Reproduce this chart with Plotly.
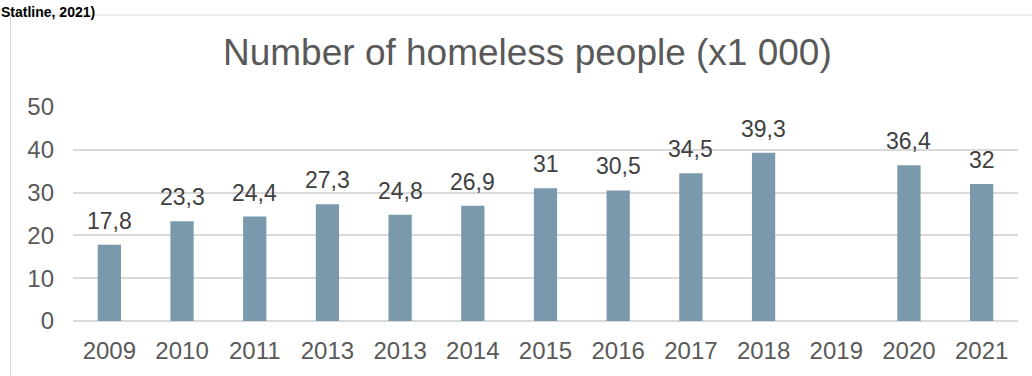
import plotly.graph_objects as go

years = ["2009", "2010", "2011", "2013", "2013", "2014", "2015", "2016",
         "2017", "2018", "2019", "2020", "2021"]
values = [17.8, 23.3, 24.4, 27.3, 24.8, 26.9, 31, 30.5, 34.5, 39.3, None, 36.4, 32]
y_ticks = [0, 10, 20, 30, 40, 50]

title_text = "Number of homeless people (x1 000)"
source_text = "Statline, 2021)"

FONT = "Liberation Sans, Arial, sans-serif"
BAR = "rgb(122,153,173)"
GRID = "#D9D9D9"

# plot area geometry (pixels)
L, R, T, B = 73, 14, 107, 49
W, H = 1032, 376
pw, ph = W - L - R, H - T - B

def px_x(p):
    return (p - L) / pw

def px_y(p):
    return (H - B - p) / ph

xs = list(range(len(years)))

fig = go.Figure()
fig.add_trace(go.Bar(
    x=xs, y=values, marker=dict(color=BAR, line=dict(width=0)),
    width=0.32, hoverinfo="skip",
))

annotations = []
for x, v in zip(xs, values):
    if v is None:
        continue
    annotations.append(dict(
        x=x, y=v, xref="x", yref="y", text=f"{v:g}".replace(".", ","),
        showarrow=False, yanchor="bottom", yshift=9,
        font=dict(family=FONT, size=23, color="#404040"),
    ))

annotations.append(dict(
    x=px_x(527), y=px_y(51), xref="paper", yref="paper", text=title_text,
    showarrow=False, xanchor="center", yanchor="middle",
    font=dict(family=FONT, size=37, color="#595959"),
))
annotations.append(dict(
    x=px_x(0), y=px_y(0), xref="paper", yref="paper", text="<b>" + source_text + "</b>",
    showarrow=False, xanchor="left", yanchor="top", borderpad=0,
    font=dict(family=FONT, size=14, color="#000000"),
))

fig.update_layout(
    width=W, height=H,
    margin=dict(l=L, r=R, t=T, b=B, pad=0),
    paper_bgcolor="white", plot_bgcolor="white",
    showlegend=False,
    annotations=annotations,
    shapes=[dict(
        type="rect", xref="paper", yref="paper",
        x0=px_x(10.5), x1=px_x(1100), y0=px_y(450), y1=px_y(12.5),
        line=dict(color=GRID, width=1), fillcolor="rgba(0,0,0,0)", layer="below",
    )],
    xaxis=dict(
        range=[-0.5, len(years) - 0.5], tickvals=xs, ticktext=years,
        showgrid=False, zeroline=False, showline=False, ticks="",
        tickfont=dict(family=FONT, size=24, color="#595959"),
        ticklabelstandoff=13,
    ),
    yaxis=dict(
        range=[0, 50], tickvals=y_ticks, showgrid=True, gridcolor=GRID, gridwidth=1.5,
        zeroline=True, zerolinecolor=GRID, zerolinewidth=1.5, showline=False, ticks="",
        tickfont=dict(family=FONT, size=24, color="#595959"),
        ticklabelstandoff=18,
    ),
)

fig.write_html("out.html")
